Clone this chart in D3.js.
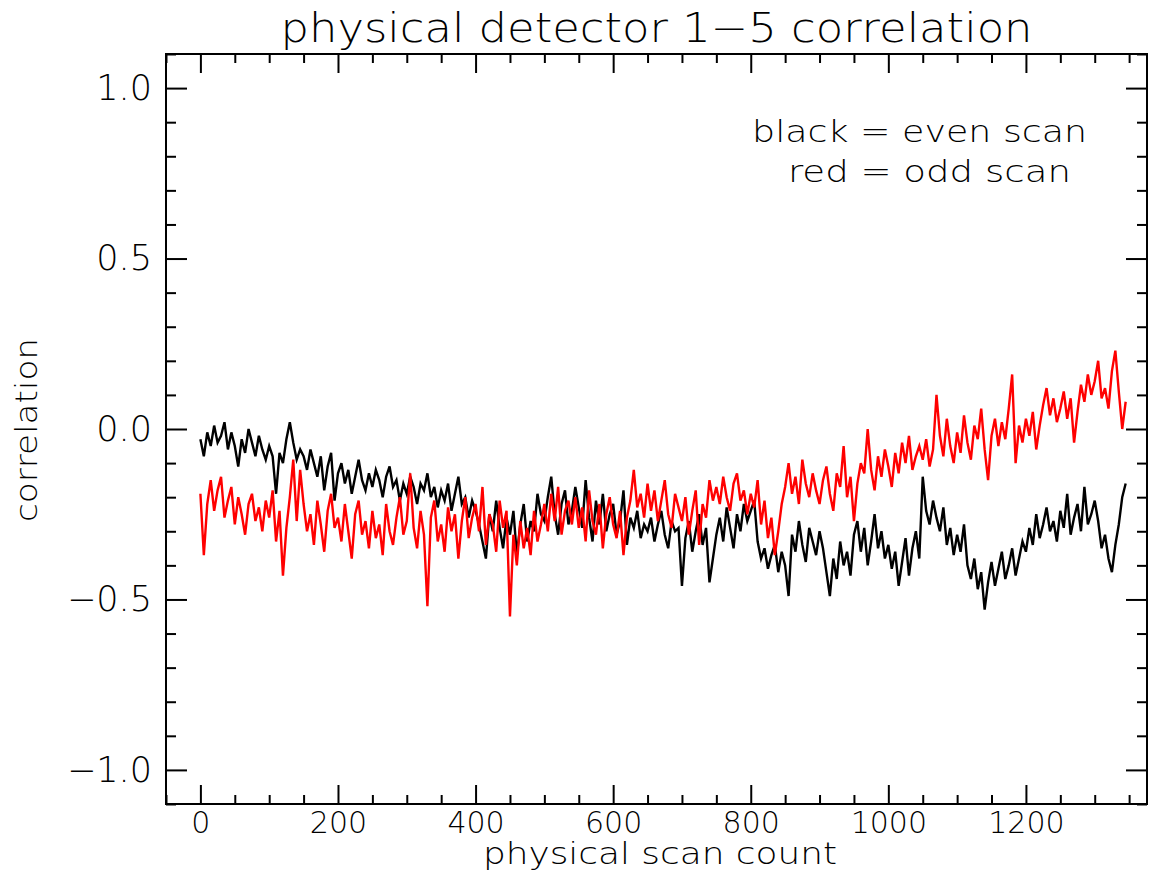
<!DOCTYPE html>
<html>
<head>
<meta charset="utf-8">
<script src="https://cdn.jsdelivr.net/npm/d3@7"></script>
<style>
body { margin: 0; background: #fff; }
svg text { font-family: "DejaVu Sans", "Liberation Sans", sans-serif; font-weight: 200; fill: #000; }
</style>
</head>
<body>
<div id="chart"></div>
<script>
/*
 Correlation of physical detector 1-5, even vs odd scans.
 One value every scanStep scans.
*/
var scanStep = 5;

// black = even scan
var evenScan = [
  -0.03, -0.08, -0.01, -0.05, 0.01, -0.04, -0.02, 0.02, -0.06, -0.01,
  -0.05, -0.11, -0.03, -0.07, 0.00, -0.04, -0.08, -0.02, -0.06, -0.09,
  -0.05, -0.08, -0.19, -0.07, -0.10, -0.03, 0.02, -0.04, -0.09, -0.06,
  -0.08, -0.12, -0.06, -0.10, -0.14, -0.08, -0.18, -0.11, -0.07, -0.21,
  -0.13, -0.10, -0.16, -0.12, -0.19, -0.14, -0.09, -0.15, -0.18, -0.13,
  -0.17, -0.12, -0.15, -0.20, -0.14, -0.11, -0.17, -0.15, -0.21, -0.16,
  -0.19, -0.14, -0.17, -0.22, -0.16, -0.18, -0.13, -0.20, -0.17, -0.23,
  -0.18, -0.21, -0.16, -0.24, -0.19, -0.14, -0.22, -0.20, -0.26, -0.21,
  -0.24, -0.28, -0.33, -0.38, -0.25, -0.30, -0.21, -0.29, -0.35, -0.26,
  -0.31, -0.24, -0.37, -0.28, -0.22, -0.33, -0.27, -0.30, -0.19, -0.25,
  -0.27, -0.20, -0.14, -0.25, -0.31, -0.22, -0.18, -0.28, -0.24, -0.17,
  -0.23, -0.29, -0.15, -0.26, -0.33, -0.21, -0.28, -0.19, -0.30, -0.25,
  -0.22, -0.31, -0.27, -0.18, -0.34, -0.26, -0.29, -0.24, -0.32, -0.28,
  -0.30, -0.26, -0.33, -0.28, -0.24, -0.31, -0.35, -0.27, -0.30, -0.29,
  -0.46, -0.32, -0.27, -0.36, -0.30, -0.25, -0.34, -0.29, -0.45, -0.38,
  -0.31, -0.26, -0.33, -0.23, -0.29, -0.35, -0.25, -0.30, -0.22, -0.27,
  -0.24, -0.21, -0.33, -0.38, -0.35, -0.41, -0.37, -0.34, -0.42, -0.36,
  -0.40, -0.49, -0.31, -0.36, -0.27, -0.34, -0.39, -0.29, -0.33, -0.37,
  -0.30, -0.35, -0.42, -0.49, -0.38, -0.44, -0.33, -0.40, -0.36, -0.43,
  -0.31, -0.27, -0.36, -0.29, -0.40, -0.33, -0.25, -0.35, -0.30, -0.38,
  -0.34, -0.41, -0.36, -0.46, -0.39, -0.32, -0.43, -0.35, -0.30, -0.38,
  -0.14, -0.24, -0.28, -0.21, -0.26, -0.30, -0.23, -0.34, -0.29, -0.37,
  -0.31, -0.36, -0.28, -0.40, -0.44, -0.38, -0.47, -0.42, -0.53, -0.45,
  -0.39, -0.46, -0.41, -0.36, -0.44, -0.40, -0.35, -0.43, -0.38, -0.33,
  -0.36, -0.29, -0.34, -0.25, -0.32, -0.28, -0.23, -0.30, -0.27, -0.33,
  -0.24, -0.29, -0.19, -0.31, -0.26, -0.22, -0.30, -0.17, -0.28, -0.25,
  -0.21, -0.27, -0.35, -0.31, -0.38, -0.42, -0.34, -0.28, -0.20, -0.16
];

// red = odd scan
var oddScan = [
  -0.19, -0.37, -0.22, -0.15, -0.24, -0.18, -0.14, -0.26, -0.21, -0.17,
  -0.28, -0.20, -0.25, -0.31, -0.22, -0.19, -0.27, -0.23, -0.30, -0.21,
  -0.26, -0.18, -0.33, -0.24, -0.43, -0.29, -0.20, -0.09, -0.27, -0.12,
  -0.22, -0.30, -0.25, -0.34, -0.21, -0.28, -0.36, -0.24, -0.19, -0.29,
  -0.26, -0.33, -0.22, -0.30, -0.38, -0.25, -0.21, -0.31, -0.27, -0.35,
  -0.24, -0.32, -0.28, -0.37, -0.22, -0.30, -0.34, -0.26, -0.20, -0.31,
  -0.27, -0.13, -0.29, -0.35, -0.24, -0.31, -0.52, -0.26, -0.21, -0.33,
  -0.28, -0.36, -0.23, -0.30, -0.25, -0.38, -0.27, -0.20, -0.32, -0.26,
  -0.22, -0.30, -0.17, -0.34, -0.25, -0.28, -0.36, -0.21, -0.29, -0.24,
  -0.55, -0.31, -0.40, -0.27, -0.35, -0.29, -0.37, -0.24, -0.33, -0.28,
  -0.22, -0.30, -0.19, -0.27, -0.17, -0.31, -0.24, -0.21, -0.28, -0.20,
  -0.29, -0.23, -0.33, -0.18, -0.27, -0.31, -0.22, -0.35, -0.25, -0.20,
  -0.28, -0.32, -0.24, -0.37, -0.26, -0.21, -0.12, -0.23, -0.19, -0.26,
  -0.16, -0.24, -0.18, -0.27, -0.21, -0.15, -0.25, -0.29, -0.19, -0.23,
  -0.27, -0.20, -0.31, -0.24, -0.18, -0.34, -0.22, -0.26, -0.15, -0.21,
  -0.17, -0.22, -0.14, -0.20, -0.24, -0.16, -0.13, -0.21, -0.18, -0.25,
  -0.19, -0.23, -0.15, -0.28, -0.21, -0.32, -0.26, -0.37, -0.30, -0.22,
  -0.17, -0.10, -0.19, -0.14, -0.22, -0.09, -0.16, -0.20, -0.13, -0.18,
  -0.22, -0.15, -0.11, -0.19, -0.24, -0.13, -0.17, -0.05, -0.20, -0.14,
  -0.27, -0.16, -0.10, -0.13, 0.00, -0.12, -0.18, -0.08, -0.14, -0.06,
  -0.11, -0.17, -0.07, -0.13, -0.04, -0.10, -0.02, -0.12, -0.08, -0.05,
  -0.09, -0.03, -0.11, -0.06, 0.10, -0.02, -0.08, 0.03, -0.05, -0.10,
  -0.01, -0.07, 0.04, -0.04, -0.09, 0.01, -0.03, 0.06, -0.06, -0.15,
  -0.02, 0.03, -0.05, 0.02, -0.03, 0.06, 0.16, -0.10, 0.01, -0.04,
  0.03, -0.02, 0.05, -0.06, 0.01, 0.07, 0.12, 0.04, 0.09, 0.02,
  0.06, 0.11, 0.03, 0.09, -0.04, 0.05, 0.13, 0.08, 0.16, 0.10,
  0.14, 0.20, 0.09, 0.12, 0.06, 0.17, 0.23, 0.11, 0.00, 0.08
];

var xMajorTicks = [0, 200, 400, 600, 800, 1000, 1200];
var yMajorTicks = [-1.0, -0.5, 0.0, 0.5, 1.0];
var yTickLabels = ["\u22121.0", "\u22120.5", "0.0", "0.5", "1.0"];

var titleText = "physical detector 1\u22125 correlation";
var xLabelText = "physical scan count";
var yLabelText = "correlation";
var legendLines = ["black = even scan", "red = odd scan"];

var width = 1154, height = 873;
// plot box, IDL style: frame on all 4 sides with inward ticks
var box = { left: 166, right: 1147, top: 54, bottom: 804 };

var svg = d3.select("#chart").append("svg")
  .attr("width", width)
  .attr("height", height);

var x = d3.scaleLinear().domain([-50, 1376]).range([box.left, box.right]);
var y = d3.scaleLinear().domain([-1.1, 1.1]).range([box.bottom, box.top]);

var xMinor = d3.range(-1, 28).map(function(d){ return d * 50; })
  .filter(function(d){ return d % 200 != 0; });
var yMinor = d3.range(-11, 12).map(function(d){ return d / 10; })
  .filter(function(d){ return Math.abs(d * 10) % 5 != 0; });

function styleAxis(g){
  g.selectAll("path, line").attr("stroke", "#000").attr("stroke-width", 2);
  g.select(".domain").remove();
}

// bottom axis (with labels)
svg.append("g")
  .attr("transform", "translate(0," + box.bottom + ")")
  .call(d3.axisBottom(x).tickValues(xMajorTicks).tickSize(-19).tickSizeOuter(0).tickPadding(8)
    .tickFormat(d3.format("d")))
  .call(styleAxis)
  .selectAll("text").attr("font-size", 30);
svg.append("g")
  .attr("transform", "translate(0," + box.bottom + ")")
  .call(d3.axisBottom(x).tickValues(xMinor).tickSize(-9).tickFormat(""))
  .call(styleAxis);

// top axis
svg.append("g")
  .attr("transform", "translate(0," + box.top + ")")
  .call(d3.axisTop(x).tickValues(xMajorTicks).tickSize(-19).tickFormat(""))
  .call(styleAxis);
svg.append("g")
  .attr("transform", "translate(0," + box.top + ")")
  .call(d3.axisTop(x).tickValues(xMinor).tickSize(-9).tickFormat(""))
  .call(styleAxis);

// left axis (with labels)
svg.append("g")
  .attr("transform", "translate(" + box.left + ",0)")
  .call(d3.axisLeft(y).tickValues(yMajorTicks).tickSize(-21).tickPadding(14)
    .tickFormat(function(d, i){ return yTickLabels[i]; }))
  .call(styleAxis)
  .selectAll("text").attr("font-size", 35);
svg.append("g")
  .attr("transform", "translate(" + box.left + ",0)")
  .call(d3.axisLeft(y).tickValues(yMinor).tickSize(-10).tickFormat(""))
  .call(styleAxis);

// right axis
svg.append("g")
  .attr("transform", "translate(" + box.right + ",0)")
  .call(d3.axisRight(y).tickValues(yMajorTicks).tickSize(-21).tickFormat(""))
  .call(styleAxis);
svg.append("g")
  .attr("transform", "translate(" + box.right + ",0)")
  .call(d3.axisRight(y).tickValues(yMinor).tickSize(-10).tickFormat(""))
  .call(styleAxis);

// frame
svg.append("rect")
  .attr("x", box.left).attr("y", box.top)
  .attr("width", box.right - box.left).attr("height", box.bottom - box.top)
  .attr("fill", "none").attr("stroke", "#000").attr("stroke-width", 2);

// the two series
var line = d3.line()
  .x(function(d, i){ return x(i * scanStep); })
  .y(function(d){ return y(d); });

function drawSeries(values, color){
  svg.append("path")
    .datum(values)
    .attr("fill", "none")
    .attr("stroke", color)
    .attr("stroke-width", 2.4)
    .attr("stroke-linejoin", "miter")
    .attr("d", line);
}
drawSeries(evenScan, "#000000");
drawSeries(oddScan, "#ff0000");

// title + axis titles
svg.append("text")
  .attr("x", (box.left + box.right) / 2).attr("y", 42)
  .attr("text-anchor", "middle").attr("font-size", 40)
  .attr("textLength", 752).attr("lengthAdjust", "spacingAndGlyphs")
  .text(titleText);

svg.append("text")
  .attr("x", 660).attr("y", 864)
  .attr("text-anchor", "middle").attr("font-size", 30)
  .attr("textLength", 354).attr("lengthAdjust", "spacingAndGlyphs")
  .text(xLabelText);

svg.append("text")
  .attr("transform", "translate(37,430) rotate(-90)")
  .attr("text-anchor", "middle").attr("font-size", 31)
  .attr("textLength", 184).attr("lengthAdjust", "spacingAndGlyphs")
  .text(yLabelText);

// legend text, placed in data coordinates like xyouts
var legendPos = [
  { sx: 802, v: 0.843, len: 335 },
  { sx: 854, v: 0.724, len: 283 }
];
legendLines.forEach(function(t, i){
  svg.append("text")
    .attr("x", x(legendPos[i].sx)).attr("y", y(legendPos[i].v))
    .attr("font-size", 31)
    .attr("textLength", legendPos[i].len).attr("lengthAdjust", "spacingAndGlyphs")
    .text(t);
});
</script>
</body>
</html>
